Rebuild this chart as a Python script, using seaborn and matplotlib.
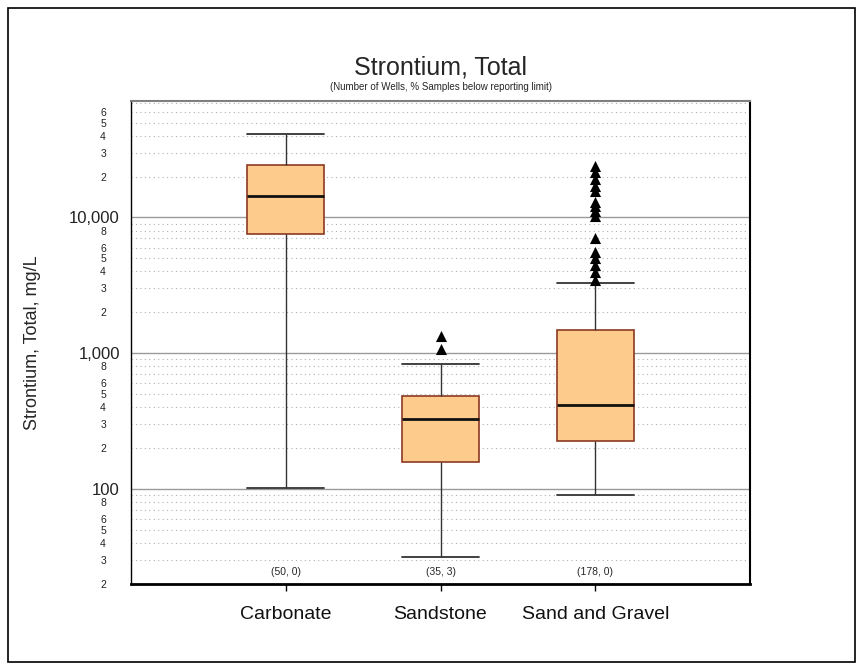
import numpy as np
import pandas as pd
import matplotlib
matplotlib.use("Agg")
import matplotlib.pyplot as plt
import matplotlib.ticker as mticker
import matplotlib.transforms as mtransforms
from matplotlib.patches import Rectangle
import seaborn as sns

# ---- data ----
categories = ["Carbonate", "Sandstone", "Sand and Gravel"]
whisker_low = [102, 31.5, 90]
q1 = [7500, 157, 225]
median = [14500, 326, 415]
q3 = [24200, 484, 1478]
whisker_high = [41000, 840, 3310]
n_labels = ["(50, 0)", "(35, 3)", "(178, 0)"]
outliers_sandstone = [1330, 1070]
outliers_sand_gravel = [23800, 21500, 19100, 16900, 15600, 13100, 12100, 11100,
                        10200, 7100, 5610, 5070, 4500, 3990, 3480]
title = "Strontium, Total"
subtitle = "(Number of Wells, % Samples below reporting limit)"
ylabel = "Strontium, Total, mg/L"

# ---- tables for seaborn ----
rows = []
for c, a, b, m, d, e in zip(categories, whisker_low, q1, median, q3, whisker_high):
    for v in (a, b, m, d, e):
        rows.append({"cat": c, "val": v})
box_df = pd.DataFrame(rows)
out_rows = [{"cat": "Sandstone", "val": v} for v in outliers_sandstone] + \
           [{"cat": "Sand and Gravel", "val": v} for v in outliers_sand_gravel]
out_df = pd.DataFrame(out_rows)

sns.set_style("white")
plt.rcParams["font.family"] = ["Liberation Sans", "DejaVu Sans"]

W, H = 863, 670
fig = plt.figure(figsize=(W / 100, H / 100), dpi=100)
ax = fig.add_axes([131 / W, 1 - 584 / H, (750 - 131) / W, (584 - 101) / H])
ax.set_yscale("log")

sns.boxplot(data=box_df, x="cat", y="val", order=categories, ax=ax,
            width=0.5, whis=(0, 100), showfliers=False,
            color="#FDCB8C", linecolor="#333333", linewidth=1,
            boxprops=dict(facecolor="#FDCB8C", edgecolor="#8B3A22", linewidth=1.2),
            medianprops=dict(color="#111111", linewidth=2),
            whiskerprops=dict(color="#333333", linewidth=1),
            capprops=dict(color="#333333", linewidth=1.3),
            capwidths=0.5)

sns.stripplot(data=out_df, x="cat", y="val", order=categories, ax=ax,
              jitter=False, marker="^", color="black", size=8, linewidth=0)

ax.set_xlim(-1, 3)
ax.set_ylim(20, 72000)

# y ticks
ax.yaxis.set_major_locator(mticker.FixedLocator([100, 1000, 10000]))
ax.yaxis.set_major_formatter(mticker.FuncFormatter(lambda v, p: f"{v:,.0f}"))
ax.yaxis.set_minor_locator(mticker.LogLocator(base=10, subs=np.arange(2, 10), numticks=60))

def minor_fmt(v, p):
    d = int(round(v / 10 ** np.floor(np.log10(v) + 1e-9)))
    return str(d) if d in (2, 3, 4, 5, 6, 8) else ""

ax.yaxis.set_minor_formatter(mticker.FuncFormatter(minor_fmt))
ax.tick_params(axis="y", which="major", direction="out", length=5, width=1,
               labelsize=12, pad=3, color="black", labelcolor="#222222")
ax.tick_params(axis="y", which="minor", direction="out", length=5, width=1,
               labelsize=7.5, pad=13, color="black", labelcolor="#222222")
ax.tick_params(axis="x", which="major", direction="out", length=5, width=1,
               labelsize=14, pad=11, color="black", bottom=True, labelcolor="#111111")

# grid
ax.set_axisbelow(True)
ax.yaxis.grid(True, which="major", color="#9a9a9a", linewidth=1)
ax.yaxis.grid(True, which="minor", color="#b0b0b0", linewidth=0.8, linestyle=(0, (1, 3)))
ax.xaxis.grid(False)

# spines
for s in ax.spines.values():
    s.set_visible(True)
ax.spines["left"].set_color("black"); ax.spines["left"].set_linewidth(1)
ax.spines["bottom"].set_color("black"); ax.spines["bottom"].set_linewidth(2)
ax.spines["top"].set_color("#808080"); ax.spines["top"].set_linewidth(1.5)
ax.spines["right"].set_color("black"); ax.spines["right"].set_linewidth(1.5)

ax.set_xlabel("")
ax.set_ylabel(ylabel, fontsize=13, labelpad=20)

# count labels
trans = mtransforms.blended_transform_factory(ax.transData, ax.transAxes)
for i, lab in enumerate(n_labels):
    ax.text(i, 0.024, lab, transform=trans, ha="center", va="center", fontsize=7.5)

# titles
cx = (131 + 750) / 2 / W
fig.text(cx, 1 - 68 / H, title, ha="center", va="center", fontsize=18)
fig.text(cx, 1 - 87 / H, subtitle, ha="center", va="center", fontsize=7)

# figure border
fig.patches.append(Rectangle((8 / W, 8 / H), (855 - 8) / W, (662 - 8) / H,
                             transform=fig.transFigure, fill=False,
                             edgecolor="black", linewidth=1.2))

fig.savefig("out.png", dpi=100)
